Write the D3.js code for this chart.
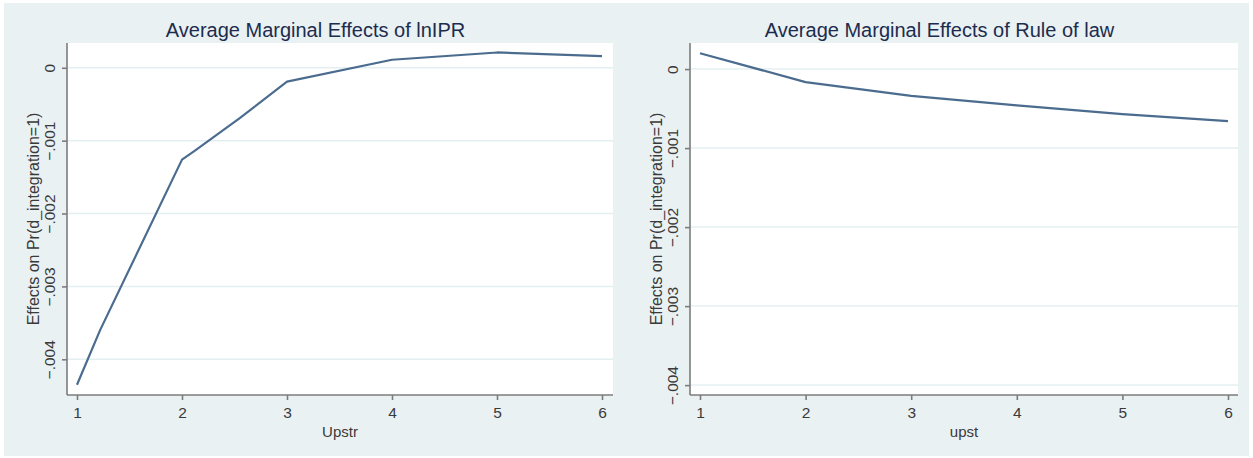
<!DOCTYPE html>
<meta charset="utf-8">
<head>
<style>
body { margin: 0; background: #fff; }
svg text { font-family: "Liberation Sans", Arial, sans-serif; }
.title { font-size: 20px; fill: #1c2c4e; text-anchor: middle; }
.axis .tick text { font-size: 15.5px; fill: #3a3a3a; }
.axis-title { font-size: 15px; fill: #3a3a3a; text-anchor: middle; }
.y-title { font-size: 16px; }
.grid line { stroke: #e4eff2; stroke-width: 1.5; }
.axis path, .axis line { stroke: #7c7c7c; stroke-width: 1.6; }
</style>
</head>
<body>

<svg width="1253" height="458"></svg>

<script src="https://cdn.jsdelivr.net/npm/d3@7"></script>
<script>

// data
var xTicks = [1, 2, 3, 4, 5, 6],
    yTicks = [0, -0.001, -0.002, -0.003, -0.004];

var iprX = [1, 1.22, 2, 2.12, 2.55, 3, 4, 5, 6],
    iprY = [-0.00435, -0.0036, -0.00126, -0.00114, -0.00069, -0.00019, 0.00011, 0.00021, 0.00016];

var lawX = [1, 2, 3, 4, 5, 6],
    lawY = [0.0002, -0.000165, -0.00034, -0.00046, -0.00057, -0.00066];

var titles = ["Average Marginal Effects of lnIPR", "Average Marginal Effects of Rule of law"],
    xTitles = ["Upstr", "upst"],
    yTitle = "Effects on Pr(d_integration=1)";

var svg = d3.select("svg");

svg.append("rect")
    .attr("x", 4).attr("y", 3)
    .attr("width", 1245).attr("height", 453)
    .attr("fill", "#eaf1f3");

// each graph sits in its own half: 4..627 and 627..1250
var panels = [
  { xs: iprX, ys: iprY, gx0: 4, gx1: 627, left: 67, right: 613, x0: 77, x1: 602, yTop: 0.00034, yBot: -0.00449 },
  { xs: lawX, ys: lawY, gx0: 627, gx1: 1252, left: 690, right: 1238, x0: 700, x1: 1228, yTop: 0.00033, yBot: -0.004125 }
];

var plotTop = 43, plotBottom = 395;

var fmt = function(d) { return d === 0 ? "0" : d3.format(".3f")(d).replace("0.", "."); };

panels.forEach(function(p, i) {
  var x = d3.scaleLinear().domain([1, 6]).range([p.x0, p.x1]),
      y = d3.scaleLinear().domain([p.yTop, p.yBot]).range([plotTop, plotBottom]);

  var g = svg.append("g");

  g.append("rect")
      .attr("x", p.left).attr("y", plotTop)
      .attr("width", p.right - p.left).attr("height", plotBottom - plotTop)
      .attr("fill", "#fff");

  g.append("g")
      .attr("class", "grid")
    .selectAll("line")
      .data(yTicks)
    .enter().append("line")
      .attr("x1", p.left).attr("x2", p.right)
      .attr("y1", y).attr("y2", y);

  var pts = p.xs.map(function(d, j) { return [d, p.ys[j]]; });

  g.append("path")
      .datum(pts)
      .attr("fill", "none")
      .attr("stroke", "#4b6c8e")
      .attr("stroke-width", 2.2)
      .attr("stroke-linejoin", "round")
      .attr("d", d3.line().x(function(d) { return x(d[0]); }).y(function(d) { return y(d[1]); }));

  var xAxis = g.append("g")
      .attr("class", "axis")
      .attr("transform", "translate(0," + plotBottom + ")")
      .call(d3.axisBottom(x).tickValues(xTicks).tickSize(5).tickSizeOuter(0).tickFormat(d3.format("d")));
  xAxis.select(".domain").attr("d", "M" + p.left + ",0H" + p.right);
  xAxis.selectAll(".tick text").attr("dy", "0.95em");

  var yAxis = g.append("g")
      .attr("class", "axis")
      .attr("transform", "translate(" + p.left + ",0)")
      .call(d3.axisLeft(y).tickValues(yTicks).tickSize(5).tickSizeOuter(0).tickFormat(fmt));
  yAxis.select(".domain").attr("d", "M0," + plotTop + "V" + plotBottom);
  yAxis.selectAll(".tick text")
      .attr("x", null).attr("dy", null)
      .attr("text-anchor", "middle")
      .attr("transform", "translate(-12,0) rotate(-90)");

  svg.append("text")
      .attr("class", "title")
      .attr("x", (p.gx0 + p.gx1) / 2)
      .attr("y", 37)
      .text(titles[i]);

  svg.append("text")
      .attr("class", "axis-title")
      .attr("x", (p.left + p.right) / 2)
      .attr("y", 437)
      .text(xTitles[i]);

  svg.append("text")
      .attr("class", "axis-title y-title")
      .attr("transform", "translate(" + (p.left - 28) + "," + (plotTop + plotBottom) / 2 + ") rotate(-90)")
      .text(yTitle);
});

</script>
</body>
